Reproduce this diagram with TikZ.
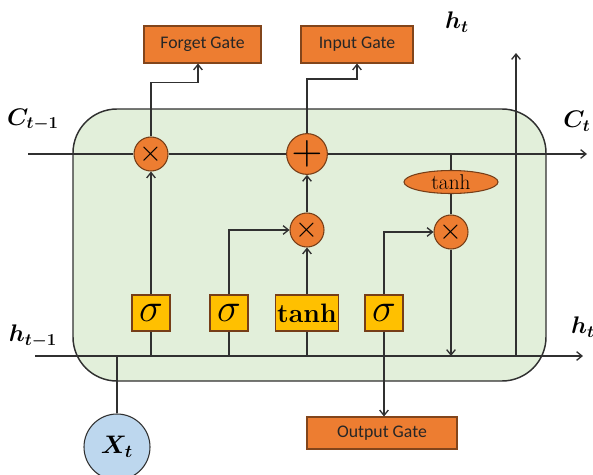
\RequirePackage{fix-cm}
\documentclass[tikz,border=0pt]{standalone}
\usepackage{amsmath,bm}
\usepackage{fontspec}
\newfontfamily\gatefont{Carlito}
\usetikzlibrary{arrows.meta,shapes.geometric,calc}
\definecolor{cellgreen}{HTML}{E2EFDA}
\definecolor{gorange}{HTML}{ED7D31}
\definecolor{gyellow}{HTML}{FFC000}
\definecolor{gblue}{HTML}{BDD7EE}
\definecolor{lncol}{HTML}{303030}
\tikzset{
  ln/.style={draw=lncol,line width=1.1pt},
  arr/.style={ln,-{Straight Barb[length=4pt,width=6.5pt,line width=1pt]}},
  gatebox/.style={draw=gorange!55!black,fill=gorange,line width=0.8pt,minimum height=27.75pt,inner sep=0pt,text=black!85,font=\gatefont\fontsize{13.3}{15}\selectfont},
  opc/.style={circle,draw=gorange!50!black,fill=gorange,line width=0.8pt,minimum size=25.5pt,inner sep=0pt},
  ybox/.style={draw=gorange!50!black,fill=gyellow,line width=0.8pt,minimum height=27pt,minimum width=28.5pt,inner sep=0pt},
  sig/.style={ybox,font=\fontsize{30}{30}\selectfont},
  lbl/.style={inner sep=0pt,font=\fontsize{18}{20}\selectfont}
}
\begin{document}
\begin{tikzpicture}[x=0.75pt,y=-0.75pt]
\useasboundingbox (0,0) rectangle (593,475);
\draw[ln,fill=cellgreen,rounded corners=33pt] (73,109) rectangle (546,381);
% coordinates
\coordinate (cin) at (28,154);
\coordinate (cout) at (587,154);
\coordinate (hin) at (35,356);
\coordinate (hout) at (583,356);
\coordinate (htop) at (516,53);
% gates
\node[gatebox,minimum width=87.75pt] (forget) at (202.5,44.5) {Forget Gate};
\node[gatebox,minimum width=84pt] (input) at (357,44.5) {Input Gate};
\node[gatebox,minimum width=112.5pt,minimum height=24pt] (output) at (382,433) {Output Gate};
% operators
\node[opc] (mul1) at (151,154) {\fontsize{22}{22}\selectfont$\times$};
\node[opc] (plus) at (307,154) {\fontsize{32}{32}\selectfont$+$};
\node[opc] (mul2) at (307,230) {\fontsize{22}{22}\selectfont$\times$};
\node[opc] (mul3) at (451,232) {\fontsize{22}{22}\selectfont$\times$};
\node[ellipse,draw=gorange!50!black,fill=gorange,line width=0.8pt,minimum width=70.5pt,minimum height=17.25pt,inner sep=0pt] (tanhE) at (451,182) {\fontsize{16}{16}\selectfont tanh};
% activations
\node[sig] (s1) at (151,313) {$\sigma$};
\node[sig] (s2) at (229,313) {$\sigma$};
\node[ybox,minimum width=47.25pt] (tb) at (307,313) {\fontsize{20}{20}\selectfont\bfseries tanh};
\node[sig] (s3) at (384,313) {$\sigma$};
% input
\node[circle,draw=lncol,fill=gblue,line width=0.8pt,minimum size=49.5pt,inner sep=0pt] (xt) at (117,447) {\fontsize{19}{20}\selectfont$\bm{X_t}$};
% labels
\node[lbl] (lc1) at (33,120) {$\bm{C_{t-1}}$};
\node[lbl] (lc2) at (577,121) {$\bm{C_t}$};
\node[lbl] (lh1) at (457,22) {$\bm{h_t}$};
\node[lbl] (lh2) at (33,336) {$\bm{h_{t-1}}$};
\node[lbl] (lh3) at (583,327) {$\bm{h_t}$};
% cell state line
\draw[ln] (cin) -- (mul1);
\draw[ln] (mul1) -- (plus);
\draw[arr] (plus) -- (cout);
\draw[ln] (tanhE.north) -- (tanhE.north |- cout);
% hidden line
\draw[arr] (hin) -- (hout);
\draw[ln] (s1.south) -- (s1.south |- hin);
\draw[ln] (s2.south) -- (s2.south |- hin);
\draw[ln] (tb.south) -- (tb.south |- hin);
\draw[ln] (xt.north) -- (xt.north |- hin);
% gates paths
\draw[arr] (s1.north) -- (mul1.south);
\draw[arr] (mul1.north) -- ++(0,-54) -| ([xshift=-3.4pt]forget.south);
\draw[arr] (plus.north) -- ++(0,-54) -| (input.south);
\draw[arr] (mul2.north) -- (plus.south);
\draw[arr] (tb.north) -- (mul2.south);
\draw[arr] (s2.north) |- (mul2.west);
\draw[arr] (s3.north) |- (mul3.west);
\draw[ln] (tanhE.south) -- (mul3.north);
\draw[arr] (mul3.south) -- (mul3.south |- hin);
\draw[arr] (htop |- hin) -- (htop);
\draw[arr] (s3.south) -- (s3.south |- output.north);
\end{tikzpicture}
\end{document}
